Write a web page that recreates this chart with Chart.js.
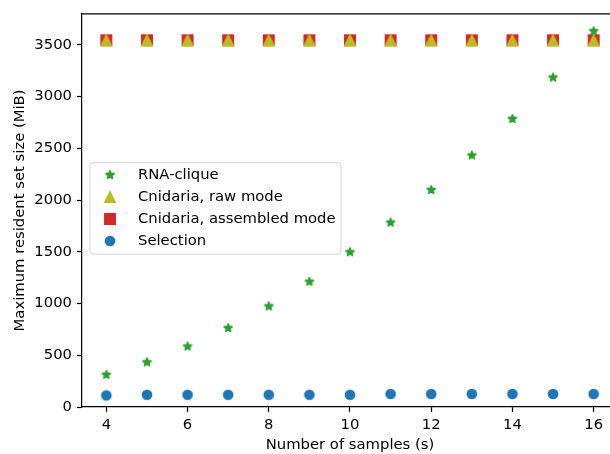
<!DOCTYPE html>
<html><head><meta charset="utf-8">
<script src="https://cdn.jsdelivr.net/npm/chart.js@4/dist/chart.umd.min.js"></script>
<style>html,body{margin:0;padding:0;overflow:hidden;background:#fff;width:610px;height:454px}canvas{display:block}</style>
</head><body>
<canvas id="c" width="624" height="454" style="width:624px;height:454px"></canvas>
<script>
// ---- data ----
const samples = [4, 5, 6, 7, 8, 9, 10, 11, 12, 13, 14, 15, 16];
const rnaClique = [312, 432, 585, 763, 973, 1211, 1497, 1783, 2098, 2432, 2785, 3185, 3633];
const cnidariaRaw = [3545, 3545, 3545, 3545, 3545, 3545, 3545, 3545, 3545, 3545, 3545, 3545, 3545];
const cnidariaAssembled = [3545, 3545, 3545, 3545, 3545, 3545, 3545, 3545, 3545, 3545, 3545, 3545, 3545];
const selection = [112, 118, 118, 118, 118, 118, 118, 126, 126, 126, 126, 126, 126];
const seriesLabels = ['RNA-clique', 'Cnidaria, raw mode', 'Cnidaria, assembled mode', 'Selection'];
const xTicks = [4, 6, 8, 10, 12, 14, 16];
const yTicks = [0, 500, 1000, 1500, 2000, 2500, 3000, 3500];
const xTitle = 'Number of samples (s)';
const yTitle = 'Maximum resident set size (MiB)';

// ---- markers (matplotlib-like) ----
function makeMarker(shape, color) {
  const cv = document.createElement('canvas');
  cv.width = 16; cv.height = 16;
  const g = cv.getContext('2d');
  g.fillStyle = color; g.strokeStyle = color; g.lineWidth = 1.5;
  const cx = 8, cy = 8;
  const s = (shape === 'square' || shape === 'triangle') ? 5.2 : 4.6;
  g.beginPath();
  if (shape === 'circle') {
    g.arc(cx, cy, s, 0, Math.PI * 2);
    g.lineJoin = 'round';
  } else if (shape === 'square') {
    g.rect(cx - s, cy - s, 2 * s, 2 * s);
    g.lineJoin = 'miter';
  } else if (shape === 'triangle') {
    g.moveTo(cx, cy - s); g.lineTo(cx + s, cy + s); g.lineTo(cx - s, cy + s); g.closePath();
    g.lineJoin = 'miter';
  } else if (shape === 'star') {
    const inner = s * 0.381966;
    for (let k = 0; k < 10; k++) {
      const r = k % 2 === 0 ? s : inner;
      const a = -Math.PI / 2 + k * Math.PI / 5;
      const px = cx + r * Math.cos(a), py = cy + r * Math.sin(a);
      if (k === 0) g.moveTo(px, py); else g.lineTo(px, py);
    }
    g.closePath();
    g.lineJoin = 'bevel';
  }
  g.fill(); g.stroke();
  return cv;
}
const colors = ['#2ca02c', '#bcbd22', '#d62728', '#1f77b4'];
const markers = [
  makeMarker('star', colors[0]),
  makeMarker('triangle', colors[1]),
  makeMarker('square', colors[2]),
  makeMarker('circle', colors[3])
];
const seriesValues = [rnaClique, cnidariaRaw, cnidariaAssembled, selection];

const FONT = { family: 'DejaVu Sans', size: 14.8 };

const spinePlugin = {
  id: 'spines',
  afterDraw(chart) {
    const { ctx, chartArea: a } = chart;
    ctx.save();
    ctx.strokeStyle = '#000'; ctx.lineWidth = 1.2;
    ctx.beginPath();
    ctx.moveTo(a.left, a.top); ctx.lineTo(a.right, a.top); ctx.lineTo(a.right, a.bottom);
    ctx.stroke();
    ctx.restore();
  }
};

const legendPlugin = {
  id: 'mplLegend',
  afterDraw(chart) {
    const { ctx, chartArea: a } = chart;
    const x0 = a.left + 8, y0 = 162.7, w = 251, h = 91.5, r = 3;
    ctx.save();
    ctx.beginPath();
    ctx.roundRect(x0, y0, w, h, r);
    ctx.fillStyle = 'rgba(255,255,255,0.8)';
    ctx.fill();
    ctx.strokeStyle = 'rgba(204,204,204,0.8)';
    ctx.lineWidth = 1;
    ctx.stroke();
    ctx.font = FONT.size + 'px "' + FONT.family + '"';
    ctx.fillStyle = '#000';
    ctx.textBaseline = 'middle';
    ctx.textAlign = 'left';
    chart.data.datasets.forEach((ds, i) => {
      const yy = y0 + 12.3 + i * 22;
      ctx.drawImage(markers[i], x0 + 20 - 8, yy - 8);
      ctx.fillText(ds.label, x0 + 48, yy);
    });
    ctx.restore();
  }
};

const datasets = seriesLabels.map((lab, i) => ({
  label: lab,
  data: samples.map((s, j) => ({ x: s, y: seriesValues[i][j] })),
  pointStyle: markers[i],
  pointRadius: 5,
  backgroundColor: colors[i],
  borderColor: colors[i]
}));

const tickFont = FONT;
new Chart(document.getElementById('c'), {
  type: 'scatter',
  data: { datasets },
  options: {
    responsive: false, animation: false, devicePixelRatio: 1, events: [],
    layout: { padding: { top: 8, right: 6, left: 0, bottom: 0 } },
    plugins: { legend: { display: false }, tooltip: { enabled: false } },
    scales: {
      x: {
        type: 'linear', min: 3.4, max: 16.6,
        afterBuildTicks: s => { s.ticks = xTicks.map(v => ({ value: v })); },
        afterFit: s => { s.height = 47; },
        grid: { drawOnChartArea: false, drawTicks: true, tickLength: 5, tickColor: '#000', tickWidth: 1.2 },
        border: { display: true, color: '#000', width: 1.2 },
        ticks: { font: tickFont, color: '#000', padding: 4, maxRotation: 0, autoSkip: false, callback: v => String(v) },
        title: { display: true, text: xTitle, font: FONT, color: '#000', padding: { top: 0, bottom: 0 } }
      },
      y: {
        type: 'linear', min: 0, max: 3800,
        afterBuildTicks: s => { s.ticks = yTicks.map(v => ({ value: v })); },
        afterFit: s => { s.width = 82; },
        grid: { drawOnChartArea: false, drawTicks: true, tickLength: 5, tickColor: '#000', tickWidth: 1.2 },
        border: { display: true, color: '#000', width: 1.2 },
        ticks: { font: tickFont, color: '#000', padding: 5, autoSkip: false, callback: v => String(v) },
        title: { display: true, text: yTitle, font: FONT, color: '#000', padding: { top: 11, bottom: 0 } }
      }
    }
  },
  plugins: [spinePlugin, legendPlugin]
});
</script>
</body></html>
